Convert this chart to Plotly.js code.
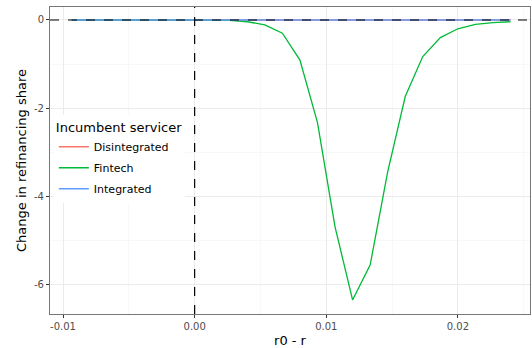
<!DOCTYPE html>
<html>
<head>
<meta charset="utf-8">
<script src="https://cdn.plot.ly/plotly-3.0.1.min.js"></script>
<style>html,body{margin:0;padding:0;background:#fff;}#chart{width:532px;height:348px;}</style>
</head>
<body>
<div id="chart"></div>
<script>
var rateGap = [-0.009333, -0.008, -0.006667, -0.005333, -0.004, -0.002667, -0.001333, 0.0,
  0.001333, 0.002667, 0.004, 0.005333, 0.006667, 0.008, 0.009333, 0.010667, 0.012,
  0.013333, 0.014667, 0.016, 0.017333, 0.018667, 0.02, 0.021333, 0.022667, 0.024];
var disintegrated = [0,0,0,0,0,0,0,0, 0,0,0,0,0,0,0,0,0, 0,0,0,0,0,0,0,0,0];
var fintech = [0,0,0,0,0,0,0,0, 0,-0.01,-0.04,-0.11,-0.30,-0.91,-2.33,-4.70,-6.36,
  -5.57,-3.45,-1.74,-0.83,-0.40,-0.20,-0.10,-0.06,-0.04];
var integrated = [0,0,0,0,0,0,0,0, 0,0,0,0,0,0,0,0,0, 0,0,0,0,0,0,0,0,0];
var seriesNames = ['Disintegrated', 'Fintech', 'Integrated'];
var seriesColors = ['#F8766D', '#00BA38', '#619CFF'];
var xTicks = [-0.01, 0, 0.01, 0.02];
var xTickText = ['-0.01', '0.00', '0.01', '0.02'];
var yTicks = [0, -2, -4, -6];
var yTickText = ['0', '-2', '-4', '-6'];

var ys = [disintegrated, fintech, integrated];
var traces = ys.map(function(v, i){
  return {x: rateGap, y: v, type: 'scatter', mode: 'lines', name: seriesNames[i],
    legendgroup: 'g' + i,
    line: {color: seriesColors[i], width: 1.3}};
});

var layout = {
  width: 532, height: 348,
  margin: {l: 50, r: 2, t: 7, b: 34},
  paper_bgcolor: '#fff', plot_bgcolor: '#fff',
  font: {family: 'DejaVu Sans, sans-serif', color: '#000'},
  showlegend: true,
  legend: {x: 0.008, y: 0.647, xanchor: 'left', yanchor: 'top', bgcolor: '#fff',
    traceorder: 'grouped', tracegroupgap: 2,
    title: {text: 'Incumbent servicer', font: {size: 13, color: '#000'}},
    font: {size: 11, color: '#000'}},
  xaxis: {range: [-0.01099, 0.02548], tickvals: xTicks, ticktext: xTickText,
    showgrid: true, gridcolor: '#ebebeb', gridwidth: 1,
    minor: {dtick: 0.005, tick0: -0.015, showgrid: true, gridcolor: '#f5f5f5', gridwidth: 0.7},
    zeroline: false, showline: true, linecolor: '#777', linewidth: 1, mirror: true,
    ticks: 'outside', ticklen: 3, tickcolor: '#333',
    tickfont: {size: 10, color: '#4d4d4d'},
    title: {text: 'r0 - r', font: {size: 13, color: '#000'}, standoff: 5}},
  yaxis: {range: [-6.68, 0.295], tickvals: yTicks, ticktext: yTickText,
    showgrid: true, gridcolor: '#ebebeb', gridwidth: 1,
    minor: {dtick: 1, tick0: -7, showgrid: true, gridcolor: '#f5f5f5', gridwidth: 0.7},
    zeroline: false, showline: true, linecolor: '#777', linewidth: 1, mirror: true,
    ticks: 'outside', ticklen: 3, tickcolor: '#333',
    tickfont: {size: 10, color: '#4d4d4d'},
    title: {text: 'Change in refinancing share', font: {size: 13, color: '#000'}, standoff: 4}},
  shapes: [
    {type: 'line', xref: 'paper', x0: 0, x1: 1, yref: 'y', y0: 0, y1: 0,
      line: {color: '#000', width: 1.2, dash: 'dash'}, layer: 'above'},
    {type: 'line', xref: 'x', x0: 0, x1: 0, yref: 'paper', y0: 0, y1: 1,
      line: {color: '#000', width: 1.2, dash: 'dash'}, layer: 'above'}
  ]
};
Plotly.newPlot('chart', traces, layout, {displayModeBar: false, staticPlot: true});
</script>
</body>
</html>
